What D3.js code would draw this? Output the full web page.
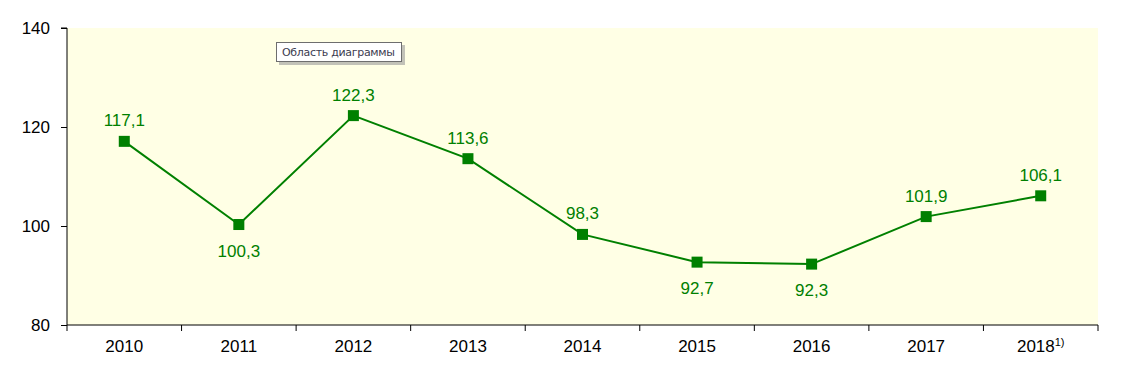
<!DOCTYPE html>
<html><head><meta charset="utf-8">
<script src="https://cdn.jsdelivr.net/npm/d3@7"></script>
<style>body{margin:0;background:#fff}svg{display:block}</style>
</head><body>
<svg id="c" width="1124" height="374"></svg>
<script>
const categories = ["2010","2011","2012","2013","2014","2015","2016","2017","2018"];
const values = [117.1, 100.3, 122.3, 113.6, 98.3, 92.7, 92.3, 101.9, 106.1];
const labelPos = ["above","below","above","above","above","below","below","above","above"];
const yTicks = [80, 100, 120, 140];

const svg = d3.select("#c");
const m = {left: 67, top: 28, right: 1098, bottom: 325};
const green = "#008000";
const FF = "Arial, Liberation Sans, sans-serif";

const x = d3.scaleBand().domain(categories).range([m.left, m.right]);
const y = d3.scaleLinear().domain([80, 140]).range([m.bottom, m.top]);

svg.append("rect").attr("x", m.left).attr("y", m.top)
  .attr("width", m.right - m.left).attr("height", m.bottom - m.top)
  .attr("fill", "#FFFFE5");

// Y axis
const ya = svg.append("g").attr("transform", `translate(${m.left},0)`)
  .call(d3.axisLeft(y).tickValues(yTicks).tickSize(6).tickPadding(11).tickFormat(d3.format("d")));
ya.select(".domain").attr("stroke", "#000").attr("d", `M-6,${m.top}H0V${m.bottom}`);
ya.selectAll("text").attr("font-family", FF).attr("font-size", 17).attr("fill", "#000");

// X axis
const xa = svg.append("g").attr("transform", `translate(0,${m.bottom})`)
  .call(d3.axisBottom(x).tickSize(0).tickPadding(15));
xa.select(".domain").attr("stroke", "#000").attr("d", `M${m.left},0H${m.right}`);
xa.selectAll("text").attr("font-family", FF).attr("font-size", 17).attr("fill", "#000");
const bounds = categories.map(c => x(c)).concat([m.right]);
xa.selectAll(".bt").data(bounds).enter().append("line")
  .attr("x1", d => d).attr("x2", d => d).attr("y1", 0).attr("y2", 6).attr("stroke", "#000");
xa.selectAll(".tick text").filter(d => d === "2018").each(function(){
  d3.select(this).append("tspan").attr("dy", -6).attr("font-size", 11).text("1)");
});

const cx = d => x(d) + x.bandwidth()/2;

svg.append("path").datum(values.map((v,i) => [cx(categories[i]), y(v)]))
  .attr("d", d3.line()).attr("fill", "none").attr("stroke", green).attr("stroke-width", 2);

svg.selectAll(".mk").data(values).enter().append("rect")
  .attr("x", (d,i) => cx(categories[i]) - 5.5).attr("y", d => y(d) - 5.5)
  .attr("width", 11).attr("height", 11).attr("fill", green);

const fmt = v => v.toFixed(1).replace(".", ",");
svg.selectAll(".lb").data(values).enter().append("text")
  .attr("x", (d,i) => cx(categories[i]))
  .attr("y", (d,i) => labelPos[i] === "above" ? y(d) - 15 : y(d) + 32)
  .attr("text-anchor", "middle")
  .attr("font-family", FF).attr("font-size", 17)
  .attr("fill", green).text(fmt);

const tt = svg.append("g").attr("transform", "translate(276,42)");
tt.append("rect").attr("x", 3).attr("y", 3).attr("width", 126).attr("height", 20).attr("fill", "#9a9a9a").attr("opacity", 0.6);
tt.append("rect").attr("x", 0.5).attr("y", 0.5).attr("width", 125).attr("height", 19).attr("fill", "#fff").attr("stroke", "#6e6e6e");
tt.append("text").attr("x", 6).attr("y", 14).attr("font-family", "DejaVu Sans, sans-serif").attr("font-size", 11)
  .attr("fill", "#3c3c50").attr("textLength", 113).text("Область диаграммы");
</script>
</body></html>
